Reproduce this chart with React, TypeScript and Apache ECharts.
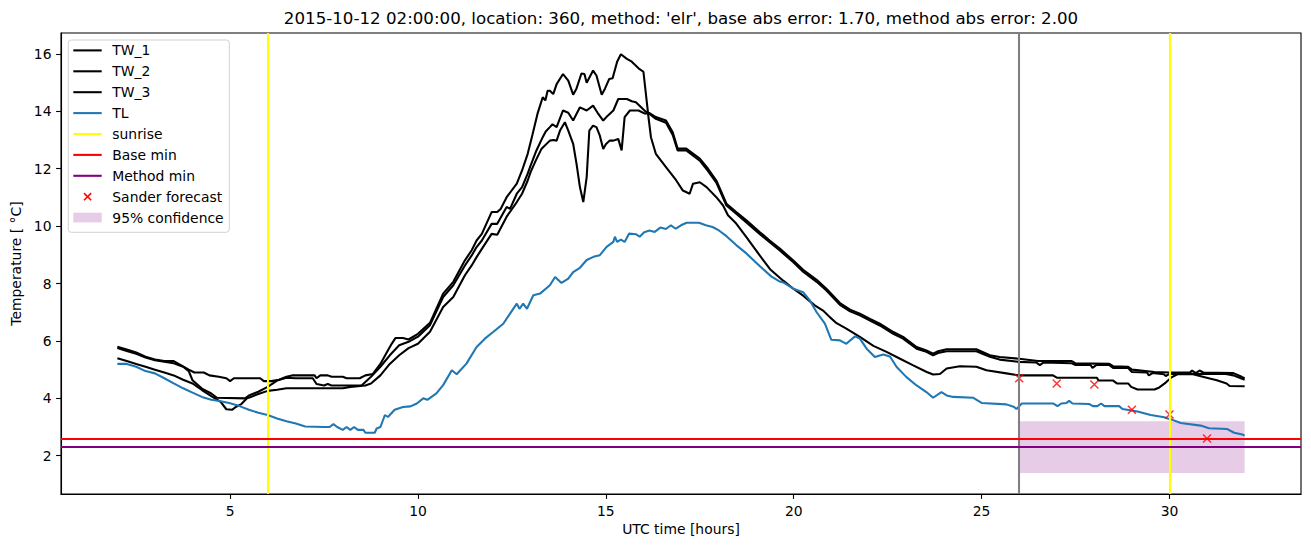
import React, { useEffect, useRef } from "react";
import * as echarts from "echarts";

// ---------------- data ----------------
const titleText =
  "2015-10-12 02:00:00, location: 360, method: 'elr', base abs error: 1.70, method abs error: 2.00";
const xAxisName = "UTC time [hours]";
const yAxisName = "Temperature [ °C]";

const xTicks = [5, 10, 15, 20, 25, 30];
const yTicks = [2, 4, 6, 8, 10, 12, 14, 16];
const xRange = [0.5, 33.5];
const yRange = [0.667, 16.73];

const tw1: number[][] = [
  [2.0, 5.8], [2.25, 5.7], [2.5, 5.6], [2.75, 5.45], [3.0, 5.35], [3.25, 5.3], [3.5, 5.3], [3.7, 5.15],
  [3.9, 5.0], [4.05, 4.9], [4.3, 4.9], [4.45, 4.8], [4.7, 4.75], [4.9, 4.7], [5.0, 4.6], [5.1, 4.7],
  [5.8, 4.7], [5.9, 4.6], [6.1, 4.6], [6.3, 4.65], [6.5, 4.75], [6.65, 4.8], [7.25, 4.8], [7.3, 4.7],
  [7.4, 4.8], [7.6, 4.8], [7.7, 4.75], [8.0, 4.75], [8.1, 4.7], [8.45, 4.7], [8.6, 4.8], [8.8, 4.85],
  [9.0, 5.2], [9.15, 5.55], [9.3, 5.9], [9.4, 6.1], [9.6, 6.1], [9.75, 6.05], [10.0, 6.25], [10.32, 6.63],
  [10.67, 7.65], [10.94, 8.06], [11.25, 8.81], [11.43, 9.16], [11.56, 9.5], [11.7, 9.73], [11.96, 10.49],
  [12.11, 10.49], [12.2, 10.6], [12.36, 11.01], [12.63, 11.48], [12.77, 11.94], [12.92, 12.52], [13.05, 13.2],
  [13.18, 13.91], [13.32, 14.49], [13.39, 14.38], [13.45, 14.72], [13.51, 14.72], [13.6, 14.6], [13.69, 14.95],
  [13.86, 15.3], [14.0, 15.07], [14.13, 14.58], [14.22, 14.8], [14.35, 15.32], [14.43, 15.3], [14.49, 15.0],
  [14.66, 15.42], [14.75, 15.25], [14.89, 14.58], [14.98, 14.8], [15.09, 15.13], [15.18, 15.15], [15.3, 15.73],
  [15.4, 15.99], [15.56, 15.83], [15.69, 15.73], [15.87, 15.5], [16.0, 15.38], [16.12, 13.97], [16.33, 13.8],
  [16.6, 13.68], [16.78, 13.27], [16.91, 12.7], [17.14, 12.7], [17.5, 12.35], [17.72, 12.0], [17.94, 11.59],
  [18.21, 10.78], [18.47, 10.49], [18.74, 10.2], [19.1, 9.79], [19.36, 9.5], [19.63, 9.22], [19.99, 8.8],
  [20.25, 8.48], [20.61, 8.13], [20.87, 7.82], [21.23, 7.32], [21.5, 7.09], [21.76, 6.95], [22.03, 6.77],
  [22.29, 6.6], [22.65, 6.31], [22.91, 6.14], [23.27, 5.79], [23.53, 5.67], [23.71, 5.56], [23.84, 5.64],
  [24.07, 5.71], [24.86, 5.71], [25.22, 5.5], [25.48, 5.44], [26.0, 5.38], [26.5, 5.3], [27.4, 5.3],
  [27.5, 5.22], [28.4, 5.2], [28.5, 5.12], [28.9, 5.1], [29.0, 5.0], [29.6, 4.92], [30.0, 4.9], [30.55, 4.9],
  [30.6, 4.97], [30.7, 4.88], [30.8, 4.97], [30.9, 4.9], [31.7, 4.88], [31.92, 4.75], [32.0, 4.7],
];

const tw2: number[][] = [
  [2.0, 5.75], [2.25, 5.65], [2.5, 5.55], [2.75, 5.42], [3.0, 5.33], [3.25, 5.28], [3.5, 5.22], [3.75, 5.1],
  [3.9, 4.95], [4.0, 4.63], [4.25, 4.34], [4.5, 4.17], [4.65, 4.02], [5.4, 4.0], [5.5, 4.1], [5.75, 4.23],
  [6.0, 4.4], [6.25, 4.62], [6.5, 4.72], [6.75, 4.7], [7.2, 4.7], [7.3, 4.5], [7.5, 4.45], [7.6, 4.5],
  [7.7, 4.45], [8.5, 4.45], [8.75, 4.75], [9.0, 5.1], [9.25, 5.5], [9.5, 5.85], [9.75, 5.97], [10.0, 6.15],
  [10.32, 6.55], [10.67, 7.53], [10.94, 7.94], [11.25, 8.63], [11.43, 8.98], [11.56, 9.27], [11.7, 9.5],
  [11.96, 10.08], [12.11, 10.08], [12.36, 10.67], [12.45, 10.6], [12.63, 11.13], [12.77, 11.36], [12.92, 11.83],
  [13.0, 12.12], [13.14, 12.6], [13.32, 13.1], [13.4, 13.3], [13.51, 13.45], [13.58, 13.55], [13.69, 13.45],
  [13.86, 14.03], [14.0, 13.95], [14.13, 13.68], [14.31, 14.14], [14.49, 14.03], [14.66, 14.2], [14.78, 13.95],
  [14.93, 13.68], [15.05, 13.85], [15.2, 14.03], [15.33, 14.43], [15.56, 14.43], [15.69, 14.35], [15.8, 14.32],
  [16.05, 14.0], [16.12, 13.95], [16.33, 13.74], [16.6, 13.6], [16.78, 13.18], [16.91, 12.64], [17.14, 12.64],
  [17.5, 12.28], [17.72, 11.92], [17.94, 11.52], [18.21, 10.72], [18.47, 10.43], [18.74, 10.13], [19.1, 9.72],
  [19.36, 9.44], [19.63, 9.15], [19.99, 8.74], [20.25, 8.41], [20.61, 8.06], [20.87, 7.76], [21.23, 7.26],
  [21.5, 7.03], [21.76, 6.89], [22.03, 6.71], [22.29, 6.54], [22.65, 6.25], [22.91, 6.08], [23.27, 5.73],
  [23.53, 5.62], [23.71, 5.5], [23.84, 5.58], [24.07, 5.64], [24.86, 5.64], [25.22, 5.45], [25.48, 5.35],
  [26.0, 5.27], [26.45, 5.25], [26.55, 5.16], [26.65, 5.25], [27.4, 5.22], [27.5, 5.16], [27.9, 5.16],
  [27.95, 5.06], [28.05, 5.16], [28.4, 5.16], [28.5, 5.06], [28.9, 5.06], [29.0, 4.92], [29.4, 4.9],
  [29.45, 4.8], [29.55, 4.88], [29.85, 4.84], [29.9, 4.78], [30.0, 4.85], [30.2, 4.86], [31.0, 4.85],
  [31.5, 4.85], [31.7, 4.8], [32.0, 4.65],
];

const tw3: number[][] = [
  [2.0, 5.4], [2.25, 5.3], [2.5, 5.2], [2.75, 5.1], [3.0, 5.0], [3.25, 4.9], [3.5, 4.8], [3.75, 4.65],
  [4.0, 4.52], [4.25, 4.29], [4.5, 4.08], [4.75, 3.88], [4.9, 3.62], [5.05, 3.6], [5.15, 3.7], [5.3, 3.8],
  [5.45, 4.0], [5.55, 4.05], [5.75, 4.15], [6.0, 4.26], [6.25, 4.3], [6.5, 4.35], [7.5, 4.35], [8.0, 4.35],
  [8.2, 4.4], [8.6, 4.45], [8.75, 4.52], [9.0, 4.8], [9.25, 5.2], [9.5, 5.5], [9.75, 5.75], [10.0, 5.9],
  [10.32, 6.32], [10.67, 7.18], [10.94, 7.53], [11.25, 8.29], [11.43, 8.63], [11.56, 8.92], [11.7, 9.21],
  [11.96, 9.73], [12.11, 9.7], [12.36, 10.33], [12.63, 10.84], [12.77, 11.13], [12.92, 11.59], [13.0, 11.89],
  [13.14, 12.3], [13.29, 12.7], [13.51, 12.98], [13.6, 13.0], [13.69, 12.98], [13.78, 13.33], [13.91, 13.62],
  [14.0, 13.33], [14.13, 12.87], [14.22, 12.17], [14.31, 11.36], [14.4, 10.84], [14.49, 11.71], [14.56, 13.33],
  [14.66, 13.5], [14.75, 13.45], [14.84, 13.15], [14.93, 12.69], [15.0, 12.85], [15.1, 12.98], [15.2, 12.98],
  [15.33, 13.04], [15.42, 12.64], [15.5, 13.8], [15.64, 14.03], [15.87, 14.03], [16.04, 13.92], [16.12, 13.95],
  [16.2, 13.1], [16.33, 12.52], [16.6, 12.06], [16.87, 11.6], [17.05, 11.24], [17.23, 11.13], [17.32, 11.48],
  [17.5, 11.53], [17.68, 11.36], [17.94, 11.01], [18.12, 10.72], [18.25, 10.38], [18.47, 10.09], [18.74, 9.62],
  [19.1, 8.97], [19.37, 8.5], [19.72, 8.1], [19.99, 7.82], [20.25, 7.58], [20.56, 7.24], [20.78, 7.06],
  [20.96, 6.83], [21.14, 6.62], [21.4, 6.43], [21.76, 6.14], [22.12, 5.83], [22.47, 5.62], [22.83, 5.38],
  [23.18, 5.15], [23.54, 4.92], [23.71, 4.83], [23.89, 4.85], [24.07, 5.04], [24.42, 5.12], [24.86, 5.1],
  [25.13, 4.98], [25.66, 4.87], [26.0, 4.8], [26.9, 4.8], [27.0, 4.72], [28.07, 4.72], [28.11, 4.62],
  [28.5, 4.62], [28.6, 4.52], [28.9, 4.52], [28.98, 4.4], [29.15, 4.31], [29.6, 4.31], [29.73, 4.38],
  [29.9, 4.55], [30.04, 4.72], [30.21, 4.84], [30.6, 4.85], [30.99, 4.72], [31.26, 4.63], [31.52, 4.52],
  [31.6, 4.43], [32.0, 4.42],
];

const tl: number[][] = [
  [2.0, 5.2], [2.25, 5.2], [2.5, 5.1], [2.75, 4.95], [3.0, 4.87], [3.25, 4.7], [3.5, 4.52], [3.75, 4.35],
  [4.0, 4.2], [4.25, 4.05], [4.5, 3.95], [4.75, 3.9], [5.0, 3.83], [5.25, 3.73], [5.5, 3.6], [5.75, 3.5],
  [6.0, 3.42], [6.25, 3.3], [6.5, 3.2], [6.75, 3.12], [7.0, 3.02], [7.5, 3.0], [7.65, 3.0], [7.75, 3.1],
  [7.85, 3.0], [8.0, 2.9], [8.1, 3.0], [8.2, 2.9], [8.3, 3.0], [8.4, 2.9], [8.55, 2.9], [8.6, 2.8],
  [8.85, 2.8], [8.9, 2.95], [9.0, 3.0], [9.12, 3.42], [9.2, 3.35], [9.38, 3.6], [9.6, 3.7], [9.8, 3.72],
  [9.97, 3.82], [10.14, 4.0], [10.25, 3.95], [10.49, 4.17], [10.67, 4.46], [10.9, 4.98], [11.03, 4.84],
  [11.29, 5.21], [11.56, 5.79], [11.78, 6.08], [12.0, 6.31], [12.27, 6.6], [12.45, 6.95], [12.63, 7.3],
  [12.7, 7.12], [12.8, 7.3], [12.9, 7.12], [13.07, 7.59], [13.25, 7.65], [13.51, 7.94], [13.65, 8.23],
  [13.82, 8.02], [14.0, 8.17], [14.13, 8.4], [14.31, 8.55], [14.49, 8.82], [14.67, 8.93], [14.84, 8.99],
  [15.02, 9.28], [15.2, 9.45], [15.24, 9.63], [15.3, 9.45], [15.4, 9.53], [15.5, 9.45], [15.62, 9.74],
  [15.8, 9.72], [15.9, 9.63], [16.02, 9.79], [16.16, 9.85], [16.3, 9.8], [16.45, 9.95], [16.6, 9.9],
  [16.73, 10.03], [16.86, 9.91], [17.0, 10.03], [17.15, 10.12], [17.48, 10.12], [17.66, 10.03], [17.84, 9.97],
  [18.01, 9.85], [18.21, 9.65], [18.47, 9.34], [18.74, 9.05], [19.1, 8.6], [19.4, 8.25], [19.63, 8.07],
  [19.72, 8.04], [19.99, 7.82], [20.25, 7.7], [20.43, 7.41], [20.61, 7.0], [20.83, 6.6], [21.0, 6.04],
  [21.23, 6.02], [21.4, 5.9], [21.63, 6.16], [21.76, 6.08], [21.94, 5.73], [22.16, 5.44], [22.38, 5.53],
  [22.56, 5.46], [22.74, 5.09], [23.0, 4.74], [23.27, 4.45], [23.53, 4.22], [23.71, 4.02], [23.93, 4.22],
  [24.07, 4.1], [24.24, 4.05], [24.78, 4.02], [25.0, 3.84], [25.66, 3.79], [25.85, 3.71], [25.93, 3.63],
  [26.07, 3.82], [26.91, 3.82], [27.02, 3.73], [27.12, 3.82], [27.26, 3.84], [27.33, 3.91], [27.42, 3.82],
  [27.87, 3.8], [27.96, 3.73], [28.08, 3.73], [28.18, 3.82], [28.27, 3.73], [28.66, 3.73], [28.75, 3.63],
  [29.15, 3.54], [29.5, 3.42], [29.86, 3.34], [29.95, 3.3], [30.08, 3.25], [30.3, 3.14], [30.83, 3.05],
  [31.05, 2.96], [31.54, 2.93], [31.72, 2.8], [31.94, 2.74], [32.0, 2.7],
];

const sunriseHours = [6, 30];
const forecastHour = [26];
const baseMin = [2.6];
const methodMin = [2.3];
const sanderHours = [26, 27, 28, 29, 30, 31];
const sanderValues = [4.7, 4.52, 4.48, 3.6, 3.44, 2.6];
const confidenceHours = [26, 32];
const confidenceBounds = [1.4, 3.2];

const legendLabels = [
  "TW_1", "TW_2", "TW_3", "TL", "sunrise", "Base min", "Method min", "Sander forecast", "95% confidence",
];

// ---------------- styles ----------------
const FONT = "DejaVu Sans";
const LW = 2.08;
const C_TW = "#000000";
const C_TL = "#1f77b4";
const C_SUN = "#ffff00";
const C_BASE = "#ff0000";
const C_METHOD = "#800080";
const C_GRAY = "#808080";
const C_BAND = "rgba(128,0,128,0.2)";
const legendKinds = ["line", "line", "line", "line", "line", "line", "line", "x", "rect"];
const legendColors = [C_TW, C_TW, C_TW, C_TL, C_SUN, C_BASE, C_METHOD, C_BASE, C_BAND];

function lineSeries(name: string, data: number[][], color: string) {
  return {
    name,
    type: "line",
    data,
    showSymbol: false,
    symbol: "none",
    silent: true,
    lineStyle: { color, width: LW },
    itemStyle: { color },
    emphasis: { disabled: true },
    z: 2,
  };
}

function markLineSeries(name: string, lines: any[], color: string, z: number) {
  return {
    name,
    type: "line",
    data: [],
    silent: true,
    z,
    markLine: {
      silent: true,
      symbol: ["none", "none"],
      label: { show: false },
      emphasis: { disabled: true },
      lineStyle: { color, width: LW, type: "solid" },
      data: lines,
    },
  };
}

function buildLegend() {
  const els: any[] = [];
  els.push({
    type: "rect",
    shape: { x: 68.3, y: 40, width: 161, height: 192.3, r: 3 },
    style: { fill: "rgba(255,255,255,0.8)", stroke: "rgba(204,204,204,0.9)", lineWidth: 1 },
    z: 100,
  });
  legendLabels.forEach((label, i) => {
    const y = 50.4 + i * 20.9;
    const kind = legendKinds[i];
    const color = legendColors[i];
    if (kind === "line") {
      els.push({
        type: "line",
        shape: { x1: 73.3, y1: y, x2: 101.7, y2: y },
        style: { stroke: color, lineWidth: LW },
        z: 101,
      });
    } else if (kind === "x") {
      els.push({
        type: "line",
        shape: { x1: 84, y1: y - 3.6, x2: 91.2, y2: y + 3.6 },
        style: { stroke: color, lineWidth: 1.5 },
        z: 101,
      });
      els.push({
        type: "line",
        shape: { x1: 84, y1: y + 3.6, x2: 91.2, y2: y - 3.6 },
        style: { stroke: color, lineWidth: 1.5 },
        z: 101,
      });
    } else {
      els.push({
        type: "rect",
        shape: { x: 73.3, y: y - 4.9, width: 28.4, height: 9.7 },
        style: { fill: color },
        z: 101,
      });
    }
    els.push({
      type: "text",
      x: 112.3,
      y,
      style: { text: label, fontSize: 13.9, fontFamily: FONT, fill: "#000", verticalAlign: "middle", align: "left" },
      z: 101,
    });
  });
  els.push({
    type: "text",
    x: 681,
    y: 18,
    style: { text: titleText, fontSize: 16.67, fontFamily: FONT, fill: "#000", align: "center", verticalAlign: "middle" },
    z: 101,
  });
  return els;
}

export default function App() {
  const ref = useRef<HTMLDivElement>(null);
  useEffect(() => {
    document.body.style.margin = "0";
    const chart = echarts.init(ref.current!, null, { renderer: "svg" });
    const axisCommon = {
      type: "value",
      axisLine: { show: true, lineStyle: { color: "#000", width: 1.1 } },
      splitLine: { show: false },
      nameLocation: "middle",
      nameTextStyle: { fontSize: 13.9, fontFamily: FONT, color: "#000" },
    };
    const option: any = {
      animation: false,
      backgroundColor: "#ffffff",
      textStyle: { fontFamily: FONT },
      grid: {
        left: 61,
        right: 10,
        top: 33,
        bottom: 53,
        show: true,
        borderColor: "#000",
        borderWidth: 1.1,
        backgroundColor: "transparent",
      },
      xAxis: {
        ...axisCommon,
        min: xRange[0],
        max: xRange[1],
        name: xAxisName,
        nameGap: 27,
        axisTick: { show: true, length: 4.9, lineStyle: { color: "#000", width: 1.1 }, customValues: xTicks },
        axisLabel: {
          customValues: xTicks,
          fontSize: 13.9,
          fontFamily: FONT,
          color: "#000",
          margin: 9.5,
          formatter: (v: number) => String(v),
        },
      },
      yAxis: {
        ...axisCommon,
        min: yRange[0],
        max: yRange[1],
        name: yAxisName,
        nameGap: 37,
        axisTick: { show: true, length: 4.9, lineStyle: { color: "#000", width: 1.1 }, customValues: yTicks },
        axisLabel: {
          customValues: yTicks,
          fontSize: 13.9,
          fontFamily: FONT,
          color: "#000",
          margin: 9.5,
          formatter: (v: number) => String(v),
        },
      },
      series: [
        lineSeries(legendLabels[0], tw1, C_TW),
        lineSeries(legendLabels[1], tw2, C_TW),
        lineSeries(legendLabels[2], tw3, C_TW),
        lineSeries(legendLabels[3], tl, C_TL),
        markLineSeries("forecast time", forecastHour.map((h) => ({ xAxis: h })), C_GRAY, 3),
        markLineSeries(legendLabels[4], sunriseHours.map((h) => ({ xAxis: h })), C_SUN, 3),
        markLineSeries(legendLabels[5], baseMin.map((v) => ({ yAxis: v })), C_BASE, 3),
        markLineSeries(legendLabels[6], methodMin.map((v) => ({ yAxis: v })), C_METHOD, 3),
        {
          name: legendLabels[7],
          type: "scatter",
          silent: true,
          z: 4,
          symbol: "path://M0,0L10,10M10,0L0,10",
          symbolSize: 8,
          itemStyle: { color: "rgba(0,0,0,0)", borderColor: C_BASE, borderWidth: 1.5 },
          emphasis: { disabled: true },
          data: sanderHours.map((h, i) => [h, sanderValues[i]]),
        },
        {
          name: legendLabels[8],
          type: "line",
          data: [],
          silent: true,
          z: 5,
          markArea: {
            silent: true,
            itemStyle: { color: C_BAND },
            emphasis: { disabled: true },
            data: [
              [
                { coord: [confidenceHours[0], confidenceBounds[0]] },
                { coord: [confidenceHours[1], confidenceBounds[1]] },
              ],
            ],
          },
        },
      ],
      graphic: buildLegend(),
    };
    chart.setOption(option);
    return () => chart.dispose();
  }, []);
  return (
    <div
      ref={ref}
      style={{ position: "absolute", left: 0, top: 0, width: 1311, height: 547, background: "#fff" }}
    />
  );
}
